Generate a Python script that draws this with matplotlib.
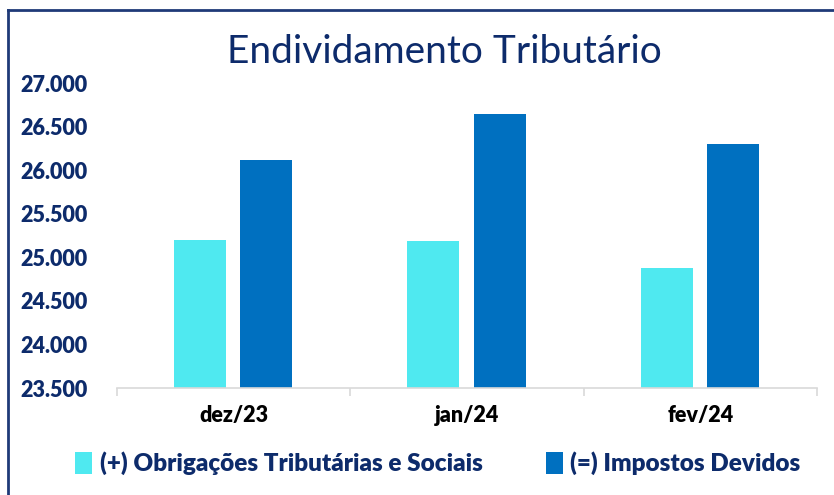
import numpy as np
import matplotlib.pyplot as plt
from matplotlib.lines import Line2D
from matplotlib.ticker import FuncFormatter, FixedLocator

# Data
categories = ['dez/23', 'jan/24', 'fev/24']
obrigacoes = [25200, 25190, 24880]
impostos = [26120, 26650, 26300]
series_labels = ['(+) Obrigações Tributárias e Sociais', '(=) Impostos Devidos']

navy = '#0d2b6b'
cyan = '#4fe9f0'
blue = '#0070c0'

plt.rcParams['font.family'] = ['Lato', 'DejaVu Sans']
bw = 'heavy'

fig = plt.figure(figsize=(8.34, 4.95), dpi=100)
ax = fig.add_axes([0.140, 0.216, 0.840, 0.616])

x = np.arange(len(categories))
w = 0.223
ax.bar(x - 0.145, obrigacoes, width=w, color=cyan, label=series_labels[0])
ax.bar(x + 0.140, impostos, width=w, color=blue, label=series_labels[1])

ax.set_ylim(23500, 27000)
ax.set_xlim(-0.5, len(categories) - 0.5)
ax.set_yticks(np.arange(23500, 27001, 500))
ax.yaxis.set_major_formatter(FuncFormatter(lambda v, p: f'{int(v):,}'.replace(',', '.')))
ax.tick_params(axis='y', length=0, pad=21, labelsize=15.5, labelcolor=navy)
for t in ax.get_yticklabels():
    t.set_fontweight(bw)

ax.set_xticks(x)
ax.set_xticklabels(categories, fontsize=15.5, fontweight=bw, color='black')
ax.tick_params(axis='x', which='major', length=0, pad=12)
ax.xaxis.set_minor_locator(FixedLocator(np.arange(-0.5, len(categories), 1.0)))
ax.tick_params(axis='x', which='minor', length=6, width=1.2, color='#d9d9d9')

for s in ['top', 'right', 'left']:
    ax.spines[s].set_visible(False)
ax.spines['bottom'].set_color('#d9d9d9')
ax.spines['bottom'].set_linewidth(1.2)

fig.text(0.533, 0.895, 'Endividamento Tributário', ha='center', va='center',
         fontsize=28, color=navy)

leg = fig.legend(loc='center', bbox_to_anchor=(0.525, 0.064), ncol=2, frameon=False,
                 handlelength=0.7, handleheight=1.0, handletextpad=0.3,
                 columnspacing=2.6, prop={'size': 17.5, 'weight': bw})
for t in leg.get_texts():
    t.set_color(navy)

# outer frame (only top and left edges are visible in the crop)
fig.add_artist(Line2D([8 / 834, 8 / 834], [0, 1 - 10 / 495], color='#1f3a78', lw=2,
                      transform=fig.transFigure))
fig.add_artist(Line2D([8 / 834, 1], [1 - 10 / 495, 1 - 10 / 495], color='#1f3a78', lw=2,
                      transform=fig.transFigure))

fig.savefig('out.png', dpi=100)
